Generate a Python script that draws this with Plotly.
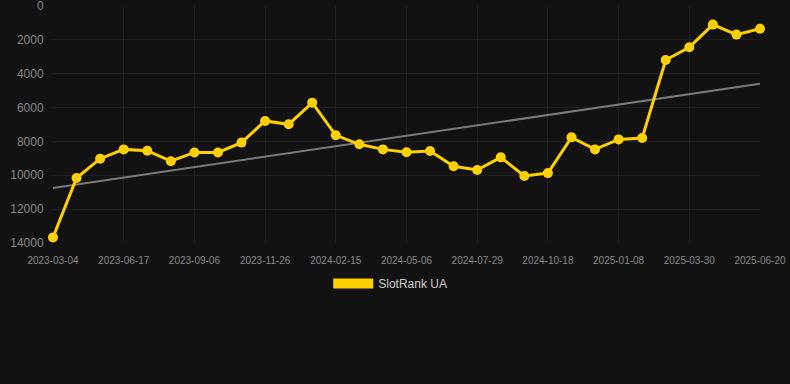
import plotly.graph_objects as go

dates = ["2023-03-04", "2023-04-08", "2023-05-13", "2023-06-17", "2023-07-14", "2023-08-10",
         "2023-09-06", "2023-10-03", "2023-10-30", "2023-11-26", "2023-12-23", "2024-01-19",
         "2024-02-15", "2024-03-13", "2024-04-09", "2024-05-06", "2024-06-03", "2024-07-01",
         "2024-07-29", "2024-08-25", "2024-09-21", "2024-10-18", "2024-11-14", "2024-12-11",
         "2025-01-08", "2025-02-04", "2025-03-03", "2025-03-30", "2025-04-25", "2025-05-22",
         "2025-06-20"]
rank = [13670, 10160, 9020, 8470, 8550, 9170, 8650, 8650, 8070, 6790, 6990, 5710,
        7640, 8170, 8470, 8640, 8570, 9470, 9690, 8940, 10040, 9870, 7760, 8470,
        7880, 7800, 3190, 2440, 1100, 1690, 1340]
trend_start = 10750
trend_end = 4590
tick_dates = dates[::3]
y_ticks = [0, 2000, 4000, 6000, 8000, 10000, 12000, 14000]

BG = "#121212"
YEL = "#FFD000"

fig = go.Figure()
fig.add_trace(go.Scatter(x=dates, y=rank, mode="lines+markers", name="SlotRank UA",
                         line=dict(color=YEL, width=3), marker=dict(color=YEL, size=10),
                         cliponaxis=False, showlegend=False))
fig.add_trace(go.Scatter(x=[dates[0], dates[-1]], y=[trend_start, trend_end], mode="lines",
                         line=dict(color="#7a7a7a", width=2), showlegend=False, hoverinfo="skip"))
fig.add_trace(go.Scatter(x=[None], y=[None], mode="lines", name="SlotRank UA",
                         line=dict(color=YEL, width=11), showlegend=True))
# keep the yellow series above the trend line
fig.data = (fig.data[1], fig.data[0], fig.data[2])

fig.update_layout(
    width=790, height=384,
    paper_bgcolor=BG, plot_bgcolor=BG,
    margin=dict(l=53, r=30, t=6, b=141, autoexpand=False),
    font=dict(family="Liberation Sans, Arial, sans-serif", color="#888888"),
    showlegend=True,
    legend=dict(orientation="h", x=0.477, xanchor="center", y=-0.11,
                yanchor="top", font=dict(size=12, color="#cccccc"), itemwidth=40,
                bgcolor="rgba(0,0,0,0)"),
)
fig.update_xaxes(type="category", categoryorder="array", categoryarray=dates, range=[0, 30],
                 tickvals=tick_dates, ticktext=tick_dates, automargin=False, tickangle=0,
                 showgrid=True, gridcolor="#1f1f1f", gridwidth=1, zeroline=False,
                 tickfont=dict(size=10, color="#888888"), ticks="outside", ticklen=8,
                 tickcolor=BG, showline=False)
fig.update_yaxes(range=[14000, 0], tickvals=y_ticks, tickformat="d", showgrid=True,
                 automargin=False, ticklabeloverflow="allow",
                 gridcolor="#1f1f1f", zeroline=False, tickfont=dict(size=12, color="#888888"),
                 ticks="outside", ticklen=6, tickcolor=BG)

fig.write_html("out.html", config={"displayModeBar": False},
               post_script="document.body.style.margin='0';document.body.style.background='#121212';")
